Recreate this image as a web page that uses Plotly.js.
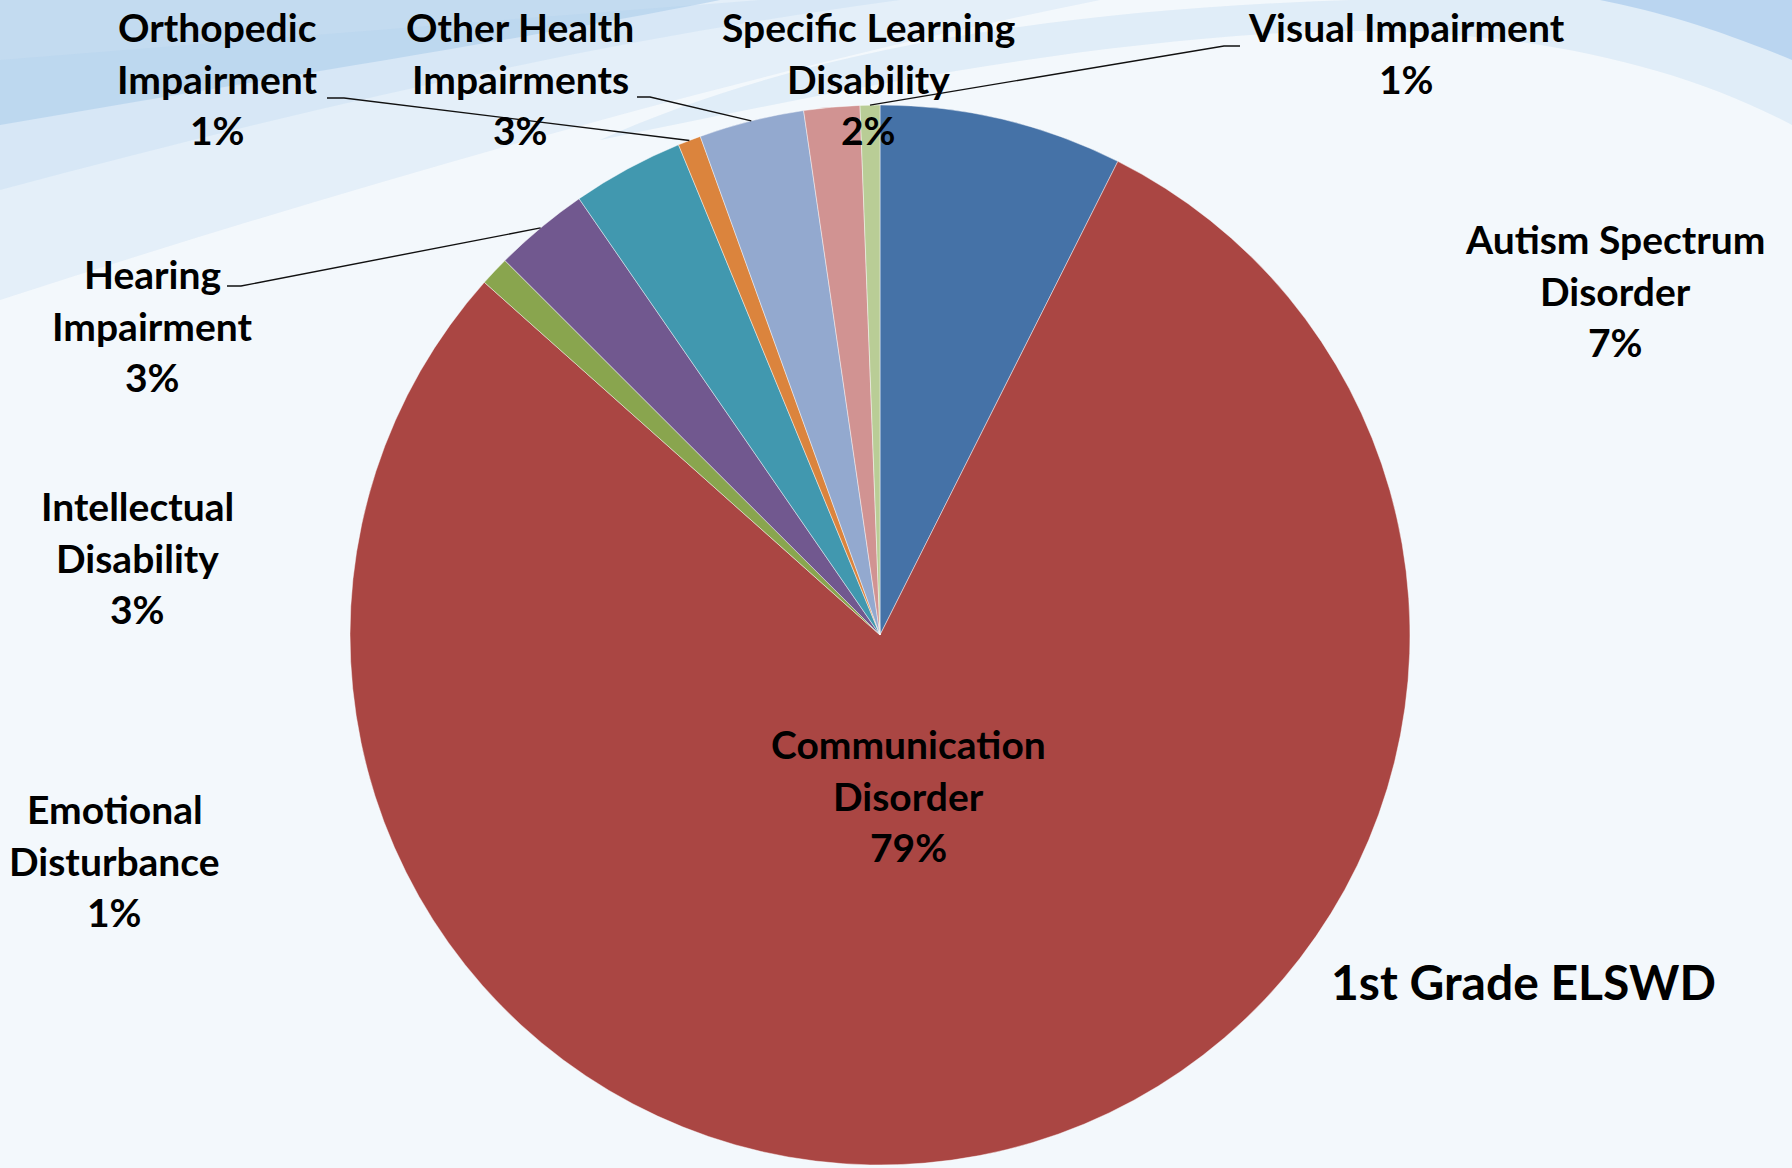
<!DOCTYPE html>
<html>
<head>
<meta charset="utf-8">
<script src="https://cdn.plot.ly/plotly-3.0.1.min.js"></script>
<style>html,body{margin:0;padding:0;background:#F3F8FC;}#chart{width:1792px;height:1168px;}</style>
</head>
<body>
<div id="chart"></div>
<script>
// ---- data ----
const categories = ['Autism Spectrum Disorder','Communication Disorder','Emotional Disturbance','Hearing Impairment','Intellectual Disability','Orthopedic Impairment','Other Health Impairments','Specific Learning Disability','Visual Impairment'];
const values = [7.4, 79.1, 0.9, 2.9, 3.4, 0.7, 3.2, 1.7, 0.6];
const labelLines = [['Autism Spectrum','Disorder'],['Communication','Disorder'],['Emotional','Disturbance'],['Hearing','Impairment'],['Intellectual','Disability'],['Orthopedic','Impairment'],['Other Health','Impairments'],['Specific Learning','Disability'],['Visual Impairment']];
const colors = ['#4572A7','#AA4643','#89A54E','#71588F','#4198AF','#DB843D','#93A9CF','#D19392','#B9CD96'];
const chartTitle = '1st Grade ELSWD';

// ---- layout (pixels) ----
const W = 1792, H = 1168;
const CX = 880, CY = 635, R = 530;
const labelPos = [[1615,239],[908,744],[115,809],[152,274],[137,506],[217,27],[520,27],[868,27],[1406,27]];
const LINE = 51.6;
// leader lines: [category index, start x, start y, elbow x]
const leaders = [[5,327,98,344],[6,637,97,650],[3,227,286,241],[8,1240,46,1224]];

const px = x => x / W;
const py = y => 1 - y / H;

const total = values.reduce((a,b)=>a+b,0);
const annotations = [];
const FONT = {family:'Lato, "Open Sans", sans-serif', size:39, color:'#000'};
categories.forEach((c,i)=>{
  const lines = labelLines[i].concat([Math.round(values[i]/total*100)+'%']);
  lines.forEach((t,k)=>{
    annotations.push({xref:'paper',yref:'paper',x:px(labelPos[i][0]),y:py(labelPos[i][1]+k*LINE),
      text:'<b>'+t+'</b>',showarrow:false,xanchor:'center',yanchor:'middle',font:FONT});
  });
});
annotations.push({xref:'paper',yref:'paper',x:px(1523),y:py(981),text:'<b>'+chartTitle+'</b>',showarrow:false,
  xanchor:'center',yanchor:'middle',font:{family:'Lato, "Open Sans", sans-serif',size:48,color:'#000'}});

// mid-angle of each slice (clockwise from 12 o'clock)
const cum = [];
let acc = 0;
values.forEach(v=>{cum.push(acc + v/2); acc += v;});
const shapes = [];
// decorative background waves
const bg = [
  {d:'M0,0 L1100,0 C800,60 400,170 0,300 Z', c:'rgba(185,212,238,0.26)'},
  {d:'M0,0 L720,0 C520,40 260,80 0,125 Z', c:'rgba(150,190,228,0.42)'},
  {d:'M0,60 C250,40 500,20 760,0 L900,0 C600,40 300,110 0,190 Z', c:'rgba(170,205,235,0.22)'},
  {d:'M600,140 C800,50 1050,10 1350,0 L1792,0 L1792,125 C1650,50 1470,25 1300,32 C1050,45 820,95 600,140 Z', c:'rgba(175,208,238,0.28)'},
  {d:'M1600,0 L1792,0 L1792,60 C1720,30 1660,12 1600,0 Z', c:'rgba(140,185,230,0.45)'}
];
function convert(d){
  return d.replace(/(-?\d+(?:\.\d+)?),(-?\d+(?:\.\d+)?)/g,(m,a,b)=>px(+a).toFixed(5)+','+py(+b).toFixed(5));
}
bg.forEach(b=>shapes.push({type:'path',xref:'paper',yref:'paper',path:convert(b.d),fillcolor:b.c,line:{width:0},layer:'below'}));

leaders.forEach(([i,sx,sy,ex])=>{
  const ang = cum[i]/total*2*Math.PI;
  const tx = CX + R*Math.sin(ang), ty = CY - R*Math.cos(ang);
  shapes.push({type:'path',xref:'paper',yref:'paper',
    path:'M'+px(sx)+','+py(sy)+' L'+px(ex)+','+py(sy)+' L'+px(tx)+','+py(ty),
    line:{color:'#111',width:1.4}});
});

const trace = {
  type:'pie', labels:categories, values:values, sort:false, direction:'clockwise', rotation:0,
  marker:{colors:colors, line:{color:'rgba(255,255,255,0.55)',width:0.8}},
  textinfo:'none', textposition:'none', hoverinfo:'label+percent',
  domain:{x:[px(CX-R),px(CX+R)], y:[py(CY+R),py(CY-R)]}
};

Plotly.newPlot('chart',[trace],{
  width:W,height:H,margin:{l:0,r:0,t:0,b:0},showlegend:false,
  paper_bgcolor:'#F3F8FC',plot_bgcolor:'#F3F8FC',
  annotations:annotations,shapes:shapes
},{displayModeBar:false,staticPlot:true});
</script>
</body>
</html>
